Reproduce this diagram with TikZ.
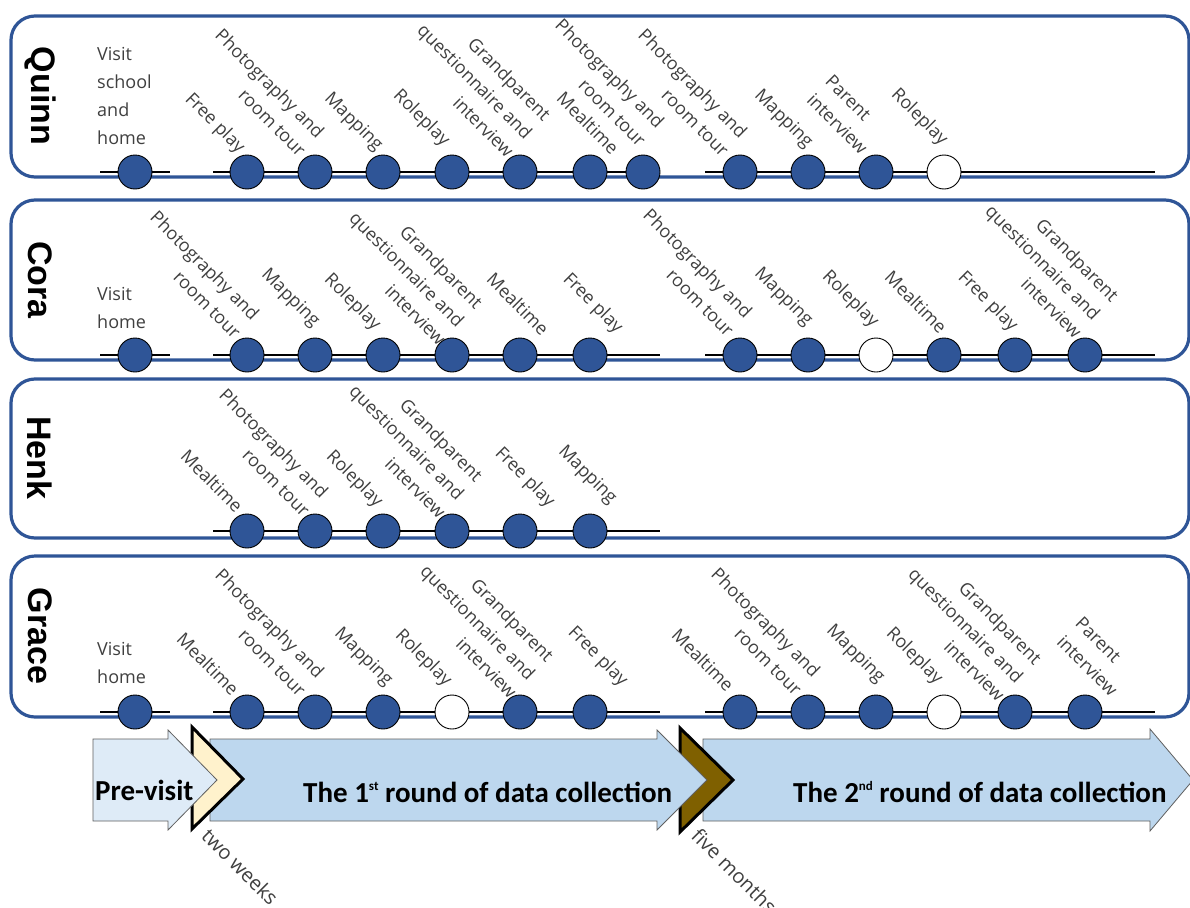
\documentclass[tikz,border=0pt]{standalone}
\usepackage{fontspec}
\setmainfont{Open Sans}
\newfontfamily\namefont{Liberation Sans}
\newfontfamily\arrowfont{Carlito}
\definecolor{pblue}{HTML}{2F5597}
\definecolor{labgrey}{HTML}{404040}
\definecolor{arrblue}{HTML}{BDD7EE}
\definecolor{prevblue}{HTML}{DEEBF7}
\definecolor{creamc}{HTML}{FFF2CC}
\definecolor{brownc}{HTML}{7F6000}
\tikzset{
 panel/.style={draw=pblue, line width=3.2pt, rounded corners=24pt},
 tline/.style={line width=2.8pt, draw=black},
 ev/.style={circle, draw=black, line width=0.9pt, fill=pblue, minimum size=34pt, inner sep=0pt},
 evw/.style={ev, fill=white},
 lab/.style={rotate=-45, anchor=south east, align=right, inner sep=0pt, text=labgrey, font=\fontsize{18}{26}\selectfont},
 labl/.style={lab, align=left},
 hlab/.style={anchor=north west, align=left, inner sep=0pt, text=labgrey, font=\fontsize{18}{28}\selectfont},
 gaplab/.style={rotate=-45, anchor=north west, inner sep=0pt, text=labgrey, font=\fontsize{20}{24}\selectfont},
 rowname/.style={rotate=-90, font=\namefont\bfseries\fontsize{34}{34}\selectfont, inner sep=0pt},
 roundarrow/.style={draw=gray!75!black, line width=0.8pt, fill=arrblue},
 prearrow/.style={roundarrow, fill=prevblue},
 chev/.style={draw=black, line width=3pt, line join=miter},
 arrtext/.style={font=\arrowfont\bfseries\fontsize{29}{31}\selectfont, anchor=west, inner sep=0pt},
}
\newcommand{\supsm}[1]{\raisebox{0.85ex}{\fontsize{13}{13}\selectfont #1}}
\begin{document}
\begin{tikzpicture}[x=1pt,y=1pt]
\useasboundingbox (0,0) rectangle (1190,-907);
\fill[white] (0,0) rectangle (1190,-907);

% ---------- panels ----------
\draw[panel] (11,-16) rectangle (1189,-177);
\draw[panel] (11,-200) rectangle (1189,-360);
\draw[panel] (11,-379) rectangle (1189,-538);
\draw[panel] (11,-556) rectangle (1189,-717);

\node[rowname] (nq) at (40,-96) {Quinn};
\node[rowname] (nc) at (40,-280) {Cora};
\node[rowname] (nh) at (40,-458) {Henk};
\node[rowname] (ng) at (40,-636) {Grace};

% ---------- Quinn ----------
\coordinate (qa) at (100,-172); \coordinate (qb) at (170,-172);
\coordinate (qc) at (213,-172); \coordinate (qd) at (650,-172);
\coordinate (qe) at (705,-172); \coordinate (qf) at (1155,-172);
\draw[tline] (qa) -- (qb); \draw[tline] (qc) -- (qd); \draw[tline] (qe) -- (qf);
\node[ev] (q0) at (135,-172) {};
\node[ev] (q1) at (247,-172) {};
\node[ev] (q2) at (315,-172) {};
\node[ev] (q3) at (383,-172) {};
\node[ev] (q4) at (452,-172) {};
\node[ev] (q5) at (520,-172) {};
\node[ev] (q6) at (590,-172) {};
\node[ev] (q7) at (643,-172) {};
\node[ev] (q8) at (740,-172) {};
\node[ev] (q9) at (808,-172) {};
\node[ev] (q10) at (876,-172) {};
\node[evw] (q11) at (944,-172) {};
\node[hlab] (ql0) at (97,-47) {Visit\\school\\and\\home};
\node[lab] (ql1) at (235,-157) {Free play};
\node[lab] (ql2) at (298,-158) {Photography and\\room tour};
\node[lab] (ql3) at (373,-155) {Mapping};
\node[lab] (ql4) at (440,-150) {Roleplay};
\node[lab] (ql5) at (506,-159) {Grandparent\\questionnaire and\\interview};
\node[lab] (ql6) at (611,-156) {Mealtime};
\node[lab] (ql7) at (638,-148) {Photography and\\room tour};
\node[lab] (ql8) at (721,-158) {Photography and\\room tour};
\node[lab] (ql9) at (803,-152) {Mapping};
\node[labl] (ql10) at (860,-156) {Parent\\interview};
\node[lab] (ql11) at (938,-149) {Roleplay};

% ---------- Cora ----------
\coordinate (ca) at (100,-355); \coordinate (cb) at (170,-355);
\coordinate (cc) at (213,-355); \coordinate (cd) at (660,-355);
\coordinate (ce) at (705,-355); \coordinate (cf) at (1155,-355);
\draw[tline] (ca) -- (cb); \draw[tline] (cc) -- (cd); \draw[tline] (ce) -- (cf);
\node[ev] (c0) at (135,-355) {};
\node[ev] (c1) at (247,-355) {};
\node[ev] (c2) at (315,-355) {};
\node[ev] (c3) at (383,-355) {};
\node[ev] (c4) at (452,-355) {};
\node[ev] (c5) at (520,-355) {};
\node[ev] (c6) at (590,-355) {};
\node[ev] (c7) at (740,-355) {};
\node[ev] (c8) at (808,-355) {};
\node[evw] (c9) at (876,-355) {};
\node[ev] (c10) at (944,-355) {};
\node[ev] (c11) at (1015,-355) {};
\node[ev] (c12) at (1085,-355) {};
\node[hlab] (cl0) at (97,-287) {Visit\\home};
\node[lab] (cl1) at (233,-340) {Photography and\\room tour};
\node[lab] (cl2) at (310,-331) {Mapping};
\node[lab] (cl3) at (371,-334) {Roleplay};
\node[lab] (cl4) at (438,-347) {Grandparent\\questionnaire and\\interview};
\node[lab] (cl5) at (541,-337) {Mealtime};
\node[lab] (cl6) at (613,-337) {Free play};
\node[lab] (cl7) at (726,-338) {Photography and\\room tour};
\node[lab] (cl8) at (803,-330) {Mapping};
\node[lab] (cl9) at (869,-331) {Roleplay};
\node[lab] (cl10) at (939,-335) {Mealtime};
\node[lab] (cl11) at (1008,-335) {Free play};
\node[lab] (cl12) at (1074,-340) {Grandparent\\questionnaire and\\interview};

% ---------- Henk ----------
\coordinate (hc) at (213,-531); \coordinate (hd) at (660,-531);
\draw[tline] (hc) -- (hd);
\node[ev] (h1) at (247,-531) {};
\node[ev] (h2) at (315,-531) {};
\node[ev] (h3) at (383,-531) {};
\node[ev] (h4) at (452,-531) {};
\node[ev] (h5) at (520,-531) {};
\node[ev] (h6) at (590,-531) {};
\node[lab] (hl1) at (235,-514) {Mealtime};
\node[lab] (hl2) at (302,-518) {Photography and\\room tour};
\node[lab] (hl3) at (373,-511) {Roleplay};
\node[lab] (hl4) at (438,-520) {Grandparent\\questionnaire and\\interview};
\node[lab] (hl5) at (545,-511) {Free play};
\node[lab] (hl6) at (607,-508) {Mapping};

% ---------- Grace ----------
\coordinate (ga) at (100,-712); \coordinate (gb) at (170,-712);
\coordinate (gc) at (213,-712); \coordinate (gd) at (660,-712);
\coordinate (ge) at (705,-712); \coordinate (gf) at (1155,-712);
\draw[tline] (ga) -- (gb); \draw[tline] (gc) -- (gd); \draw[tline] (ge) -- (gf);
\node[ev] (g0) at (135,-712) {};
\node[ev] (g1) at (247,-712) {};
\node[ev] (g2) at (315,-712) {};
\node[ev] (g3) at (383,-712) {};
\node[evw] (g4) at (452,-712) {};
\node[ev] (g5) at (520,-712) {};
\node[ev] (g6) at (590,-712) {};
\node[ev] (g7) at (740,-712) {};
\node[ev] (g8) at (808,-712) {};
\node[ev] (g9) at (876,-712) {};
\node[evw] (g10) at (944,-712) {};
\node[ev] (g11) at (1015,-712) {};
\node[ev] (g12) at (1085,-712) {};
\node[hlab] (gl0) at (97,-642) {Visit\\home};
\node[lab] (gl1) at (231,-697) {Mealtime};
\node[lab] (gl2) at (298,-698) {Photography and\\room tour};
\node[lab] (gl3) at (383,-690) {Mapping};
\node[lab] (gl4) at (442,-690) {Roleplay};
\node[lab] (gl5) at (509,-700) {Grandparent\\questionnaire and\\interview};
\node[lab] (gl6) at (618,-690) {Free play};
\node[lab] (gl7) at (726,-693) {Mealtime};
\node[lab] (gl8) at (794,-697) {Photography and\\room tour};
\node[lab] (gl9) at (875,-687) {Mapping};
\node[lab] (gl10) at (933,-688) {Roleplay};
\node[lab] (gl11) at (997,-703) {Grandparent\\questionnaire and\\interview};
\node[labl] (gl12) at (1110,-698) {Parent\\interview};

% ---------- phase arrows ----------
\draw[roundarrow] (703,-739) -- (1150,-739) -- (1150,-729) -- (1193,-780) -- (1150,-831) -- (1150,-821) -- (703,-821) -- cycle;
\draw[chev, fill=brownc] (680,-728) -- (733,-780) -- (680,-832) -- cycle;
\draw[roundarrow] (210,-739) -- (657,-739) -- (657,-730) -- (707,-780) -- (657,-830) -- (657,-821) -- (210,-821) -- cycle;
\draw[chev, fill=creamc] (192,-727) -- (243,-779) -- (192,-829) -- cycle;
\draw[prearrow] (93,-739) -- (168,-739) -- (168,-730) -- (217,-780) -- (168,-830) -- (168,-821) -- (93,-821) -- cycle;

\node[arrtext] (tpre) at (95,-790) {Pre-visit};
\node[arrtext] (tr1) at (303,-792) {The 1\supsm{st} round of data collection};
\node[arrtext] (tr2) at (793,-792) {The 2\supsm{nd} round of data collection};
\node[gaplab] (tw) at (211,-826) {two weeks};
\node[gaplab] (tf) at (701,-826) {five months};
\end{tikzpicture}
\end{document}
